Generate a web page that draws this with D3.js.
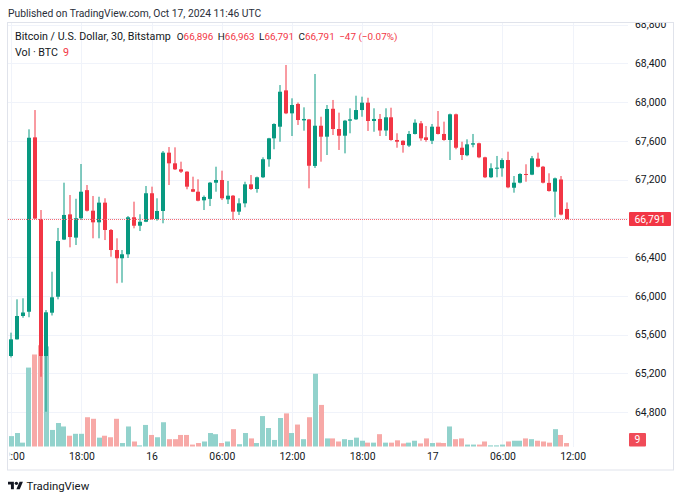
<!DOCTYPE html>
<html><head><meta charset="utf-8">
<script src="https://cdn.jsdelivr.net/npm/d3@7"></script>
<style>
body{margin:0;background:#fff;}
svg{display:block;font-family:Roboto,"Noto Sans",sans-serif;}
</style>
</head><body>
<svg id="c" width="683" height="500"></svg>
<script>
// ---- data (30-min bars, Bitstamp BTC/USD, from Oct 15 12:00 UTC) ----
const opens = [65378,65550,65791,65835,67635,66792,65378,65825,65990,66580,66840,66600,66800,67090,66878,66758,66961,66679,66472,66387,66428,66810,66723,66764,67058,66792,66875,67477,67367,67305,67281,67100,67074,66985,67000,67167,67195,66995,67033,66868,66954,67150,67102,67223,67409,67625,67745,68120,67883,67980,67810,67820,67340,67755,67642,67930,67721,67652,67807,67821,67917,67993,67804,67825,67706,67842,67608,67600,67550,67670,67780,67635,67600,67745,67670,67608,67873,67528,67450,67560,67574,67429,67223,67316,67316,67401,67115,67167,67257,67250,67415,67332,67165,67075,67200,66896];
const highs = [65619,65963,65974,67718,67917,66885,65853,66248,66700,67167,67040,67001,67360,67143,67030,67022,67006,66689,66593,66472,66823,66971,66841,67133,67126,67006,67494,67535,67532,67384,67285,67229,67202,67035,67175,67332,67291,67185,67040,67006,67177,67246,67230,67429,67630,67780,68175,68382,68038,67995,67945,67825,68289,67848,67969,68021,67890,67815,67935,68065,68055,68044,67935,67876,67935,67941,67677,67605,67701,67821,67804,67752,67773,67907,67797,67880,67880,67590,67615,67670,67580,67435,67367,67443,67419,67487,67236,67265,67357,67443,67477,67340,67264,67220,67236,66963];
const lows = [65363,65548,65773,65778,66790,65164,64803,65796,65963,66575,66500,66524,66782,66870,66593,66593,66575,66403,66129,66135,66390,66696,66668,66760,66782,66775,66748,67143,67298,67267,67099,67070,66975,66885,66926,67074,66988,66947,66782,66834,66913,67092,67064,67215,67332,67512,67590,67875,67649,67763,67704,67109,67319,67384,67453,67659,67505,67470,67677,67815,67848,67701,67693,67649,67649,67600,67528,67477,67535,67665,67600,67590,67566,67665,67600,67401,67512,67401,67440,67532,67420,67215,67215,67223,67229,67110,67064,67160,67177,67245,67325,67160,67075,66810,66830,66791];
const closes = [65550,65791,65827,67631,66797,65378,65829,65984,66565,66834,66606,66800,67074,66878,66758,66961,66679,66472,66387,66428,66810,66723,66764,67058,66792,66875,67477,67367,67305,67281,67126,67074,66981,67020,67167,67195,67006,67033,66868,66954,67150,67102,67223,67409,67625,67773,68106,67883,67969,67814,67825,67342,67755,67642,67928,67721,67652,67807,67821,67917,67993,67804,67825,67706,67842,67608,67590,67556,67670,67786,67625,67608,67745,67670,67608,67873,67528,67453,67563,67574,67429,67223,67316,67322,67401,67119,67167,67257,67250,67419,67332,67167,67081,67212,66838,66791];
const volumes = [27,35,10,205,239,263,260,43,61,52,28,33,33,76,72,23,28,24,72,9,52,13,3,56,30,24,63,19,19,30,30,5,9,13,35,32,9,13,45,6,35,21,9,79,48,17,74,86,35,57,19,76,189,108,21,21,13,19,17,23,15,10,10,32,10,10,16,8,10,15,8,21,9,10,9,52,19,21,5,5,5,13,3,3,5,13,15,15,21,19,15,13,10,45,30,9];
const priceTicks = [64800,65200,65600,66000,66400,66800,67200,67600,68000,68400,68800];
const timeTicks = ["2024-10-15T12:00Z","2024-10-15T18:00Z","2024-10-16T00:00Z","2024-10-16T06:00Z","2024-10-16T12:00Z","2024-10-16T18:00Z","2024-10-17T00:00Z","2024-10-17T06:00Z","2024-10-17T12:00Z"];
const timeTickLabels = ["12:00","18:00","16","06:00","12:00","18:00","17","06:00","12:00"];
const lastPrice = 66791, lastVolume = 9;

// ---- setup ----
const UP="#089981", DN="#F23645", UPV="#92d2cc", DNV="#f7a9a7", TXT="#131722";
const svg = d3.select("#c");
const defs = svg.append("defs");
const startT = new Date(Date.UTC(2024,9,15,12,0));
const endT = new Date(Date.UTC(2024,9,17,12,0));
const barTimes = d3.utcMinute.every(30).range(startT, endT);
const bars = barTimes.map((t,i)=>({t,o:opens[i],h:highs[i],l:lows[i],c:closes[i],v:volumes[i]}));

const PL=8, PR=628, PT=23, PB=447;
const x = d3.scaleUtc().domain([startT,endT]).range([11.3,572.6]);
const y = d3.scaleLinear().domain([64800,68800]).range([412,24.5]);
const yv = d3.scaleLinear().domain([0,300]).range([446.5,331]);

defs.append("clipPath").attr("id","plot")
  .append("rect").attr("x",PL).attr("y",PT).attr("width",PR-PL).attr("height",PB-PT);
defs.append("clipPath").attr("id","xax")
  .append("rect").attr("x",9.8).attr("y",0).attr("width",PR-10).attr("height",22);
defs.append("clipPath").attr("id","pax")
  .append("rect").attr("x",0).attr("y",PT).attr("width",46).attr("height",PB-PT);

// header
svg.append("text").attr("x",8).attr("y",17).attr("font-size",10.3).attr("fill","#2a2e39")
  .text("Published on TradingView.com, Oct 17, 2024 11:46 UTC");

// frame
svg.append("rect").attr("x",7.5).attr("y",22.5).attr("width",666).attr("height",447.5)
  .attr("fill","none").attr("stroke","#e0e3eb");

const plot = svg.append("g").attr("clip-path","url(#plot)");
// grid
plot.selectAll(".hg").data(priceTicks).join("line")
  .attr("x1",PL).attr("x2",PR).attr("y1",d=>Math.round(y(d))+0.5).attr("y2",d=>Math.round(y(d))+0.5)
  .attr("stroke","#f0f3fa");
plot.selectAll(".vg").data(timeTicks).join("line")
  .attr("y1",PT).attr("y2",PB).attr("x1",d=>Math.round(x(new Date(d)))+0.5).attr("x2",d=>Math.round(x(new Date(d)))+0.5)
  .attr("stroke","#f0f3fa");

// volume
const vw = 5;
plot.selectAll(".vol").data(bars).join("rect")
  .attr("x",d=>Math.round(x(d.t)-vw/2)).attr("width",vw)
  .attr("y",d=>yv(d.v)).attr("height",d=>yv(0)-yv(d.v))
  .attr("fill",d=>d.c>=d.o?UPV:DNV);

// candles
const bw = 4;
const cg = plot.selectAll(".cd").data(bars).join("g");
cg.append("line")
  .attr("x1",d=>Math.round(x(d.t)-bw/2)+bw/2).attr("x2",d=>Math.round(x(d.t)-bw/2)+bw/2)
  .attr("y1",d=>y(d.h)).attr("y2",d=>y(d.l))
  .attr("stroke",d=>d.c>=d.o?UP:DN).attr("stroke-width",1);
cg.append("rect")
  .attr("x",d=>Math.round(x(d.t)-bw/2)).attr("width",bw)
  .attr("y",d=>y(Math.max(d.o,d.c)))
  .attr("height",d=>Math.max(1,Math.abs(y(d.o)-y(d.c))))
  .attr("fill",d=>d.c>=d.o?UP:DN);

// last price line
plot.append("line").attr("x1",PL).attr("x2",PR)
  .attr("y1",Math.round(y(lastPrice))+0.5).attr("y2",Math.round(y(lastPrice))+0.5)
  .attr("stroke","#f46a75").attr("stroke-dasharray","1,1").attr("shape-rendering","crispEdges");

// price axis
const ay = svg.append("g").attr("transform",`translate(${PR},0)`).attr("clip-path","url(#pax)")
  .call(d3.axisRight(y).tickValues(priceTicks.filter(v=>Math.abs(y(v)-y(lastPrice))>12))
    .tickFormat(d3.format(",")).tickSize(0).tickPadding(7));
ay.select(".domain").remove();
ay.selectAll("text").attr("font-size",10.4).attr("fill",TXT).attr("font-family","Roboto");

// last price label
svg.append("rect").attr("x",629).attr("y",y(lastPrice)-7).attr("width",42).attr("height",14)
  .attr("rx",1).attr("fill",DN);
svg.append("text").attr("x",650).attr("y",y(lastPrice)).attr("dy","0.35em").attr("text-anchor","middle")
  .attr("font-size",10.4).attr("fill","#fff").text(d3.format(",")(lastPrice));
// volume label
svg.append("rect").attr("x",629).attr("y",433).attr("width",17).attr("height",13.5).attr("rx",1).attr("fill","#f04b58");
svg.append("text").attr("x",637.5).attr("y",439.8).attr("dy","0.35em").attr("text-anchor","middle")
  .attr("font-size",10.4).attr("fill","#fff").text(lastVolume);

// time axis
const ax = svg.append("g").attr("transform",`translate(0,${PB})`).attr("clip-path","url(#xax)")
  .call(d3.axisBottom(x).tickValues(timeTicks.map(d=>new Date(d)))
    .tickFormat((d,i)=>timeTickLabels[i]).tickSize(0).tickPadding(6));
ax.select(".domain").remove();
ax.selectAll("text").attr("font-size",10.4).attr("fill",TXT).attr("font-family","Roboto");

// legend
const lg = svg.append("text").attr("x",15).attr("y",39.5).attr("font-size",10.7).attr("fill",TXT);
lg.append("tspan").text("Bitcoin / U.S. Dollar, 30, Bitstamp");
const ohlc = [["O",opens[95]],["H",highs[95]],["L",lows[95]],["C",closes[95]]];
ohlc.forEach(([k,v],i)=>{
  lg.append("tspan").attr("dx",i===0?6:4.5).attr("font-size",9.9).text(k);
  lg.append("tspan").attr("fill",DN).attr("font-size",9.9).text(d3.format(",")(v));
});
lg.append("tspan").attr("dx",4.5).attr("fill",DN).attr("font-size",9.9).text("\u221247 (\u22120.07%)");
const lg2 = svg.append("text").attr("x",15).attr("y",56).attr("font-size",10.7).attr("fill",TXT);
lg2.append("tspan").text("Vol \u00b7 BTC");
lg2.append("tspan").attr("dx",5).attr("fill",DN).text(lastVolume);

// footer logo
const logo = svg.append("g").attr("transform","translate(8,480) scale(0.42)");
logo.append("path").attr("d","M14 22H7V11H0V4h14v18zM28 22h-8l7.5-18h8L28 22z").attr("fill",TXT);
logo.append("circle").attr("cx",20).attr("cy",8).attr("r",4).attr("fill",TXT);
svg.append("text").attr("x",26.5).attr("y",489.5).attr("font-size",11.4).attr("fill",TXT).text("TradingView");
</script>
</body></html>
